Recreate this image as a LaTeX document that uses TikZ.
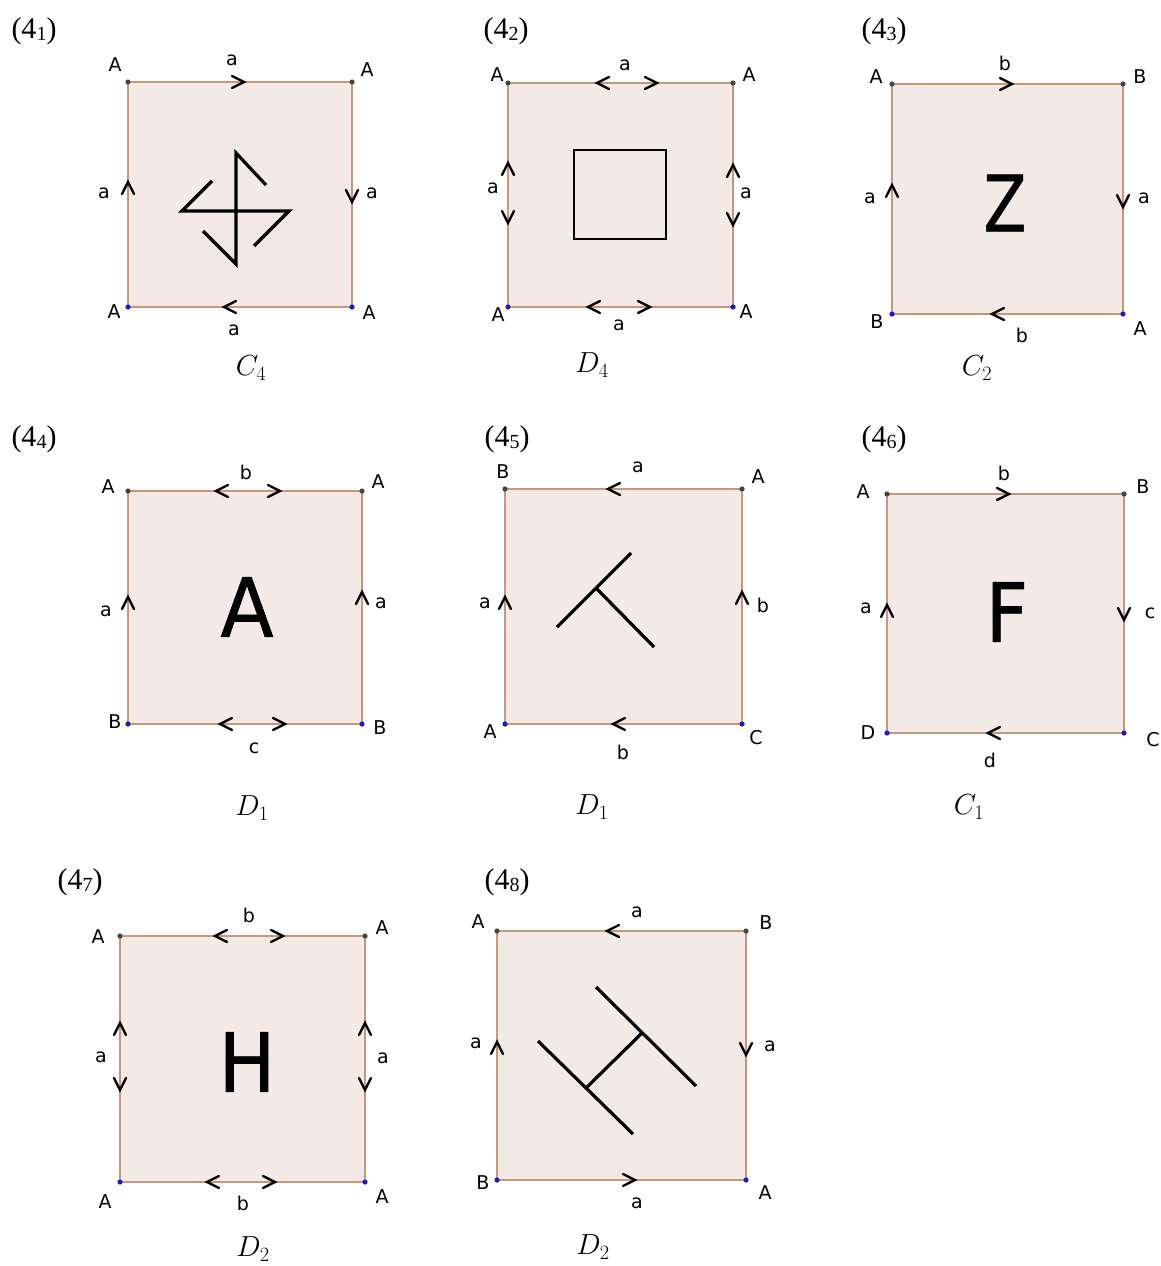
\RequirePackage{fix-cm}
\documentclass[tikz,border=0pt]{standalone}
\usepackage{fontspec}
\setmainfont{Liberation Serif}
\newfontfamily\lblfont{DejaVu Sans}
\newfontfamily\bigfont[FakeBold=0.8]{DejaVu Sans}
\definecolor{edgec}{HTML}{C8967A}
\definecolor{fillc}{HTML}{F3EAE5}
\definecolor{dotblue}{HTML}{1A1AD0}
\definecolor{dotgrey}{HTML}{444444}
\tikzset{
 face/.style={draw=edgec,fill=fillc,line width=2pt},
 chevst/.style={draw=black,line width=2.4pt,line cap=round},
 figline/.style={draw=black,line width=3.2pt},
 lbl/.style={font=\lblfont\fontsize{19}{19}\selectfont,inner sep=0pt},
 bigl/.style={font=\bigfont\fontsize{82}{82}\selectfont,inner sep=0pt},
 capt/.style={font=\fontsize{29}{29}\selectfont,inner sep=0pt},
 plab/.style={font=\fontsize{30}{30}\selectfont,inner sep=0pt},
}
\newcommand\chev[3]{\draw[chevst,shift={(#1,#2)},rotate=#3] (-12,6) -- (0,0) -- (-12,-6);}
\newcommand\sqface[4]{%
 \draw[face] (#1,#2) rectangle (#3,#4);
 \fill[dotgrey] (#1,#2) circle (2.6); \fill[dotgrey] (#3,#2) circle (2.6);
 \fill[dotblue] (#1,#4) circle (2.6); \fill[dotblue] (#3,#4) circle (2.6);}
\newcommand\plabtxt[1]{(4\raisebox{-0.08em}{\fontsize{20}{20}\selectfont #1})}
\begin{document}
\begin{tikzpicture}[x=1pt,y=-1pt]
\fill[white] (0,0) rectangle (1160,1266);
\useasboundingbox (0,0) rectangle (1160,1266);

% ---------- Panel 1 ----------
\sqface{128}{82}{352}{307}
\chev{244}{82}{0} \chev{128}{182}{90} \chev{352}{202}{-90} \chev{224}{307}{180}
\node[plab] (p1l) at (34,31) {\plabtxt{1}};
\node[lbl] (p1t) at (232,60) {a};
\node[lbl] (p1w) at (104,193) {a};
\node[lbl] (p1e) at (372,193) {a};
\node[lbl] (p1b) at (234,330) {a};
\node[lbl] (p1v1) at (115,65) {A};
\node[lbl] (p1v2) at (367,70) {A};
\node[lbl] (p1v3) at (114,312) {A};
\node[lbl] (p1v4) at (369,313) {A};
\draw[figline] (266,185) -- (236,153) -- (236,264) -- (203,231);
\draw[figline] (212,181) -- (182,211) -- (289,211) -- (254,246);
\node[capt] (p1c) at (251,368) {$C_4$};

% ---------- Panel 2 ----------
\sqface{508}{83}{733}{307}
\chev{597}{83}{180} \chev{657}{83}{0}
\chev{508}{163}{90} \chev{508}{223}{-90}
\chev{733}{165}{90} \chev{733}{225}{-90}
\chev{588}{307}{180} \chev{650}{307}{0}
\node[plab] (p2l) at (506,31) {\plabtxt{2}};
\node[lbl] (p2t) at (625,65) {a};
\node[lbl] (p2w) at (493,188) {a};
\node[lbl] (p2e) at (746,193) {a};
\node[lbl] (p2b) at (619,325) {a};
\node[lbl] (p2v1) at (497,75) {A};
\node[lbl] (p2v2) at (749,75) {A};
\node[lbl] (p2v3) at (498,315) {A};
\node[lbl] (p2v4) at (746,312) {A};
\draw[black,line width=2.6pt] (574,150) rectangle (666,239);
\node[capt] (p2c) at (592,365) {$D_4$};

% ---------- Panel 3 ----------
\sqface{892}{84}{1123}{314}
\chev{1012}{84}{0} \chev{892}{185}{90} \chev{1123}{207}{-90} \chev{992}{314}{180}
\node[plab] (p3l) at (884,31) {\plabtxt{3}};
\node[lbl] (p3t) at (1005,63) {b};
\node[lbl] (p3w) at (870,198) {a};
\node[lbl] (p3e) at (1144,198) {a};
\node[lbl] (p3b) at (1022,335) {b};
\node[lbl] (p3v1) at (876,77) {A};
\node[lbl] (p3v2) at (1140,77) {B};
\node[lbl] (p3v3) at (877,322) {B};
\node[lbl] (p3v4) at (1140,329) {A};
\node[bigl,font=\bigfont\fontsize{78}{78}\selectfont] (p3z) at (1005,203) {\scalebox{0.8}[1]{Z}};
\node[capt] (p3c) at (977,368) {$C_2$};

% ---------- Panel 4 ----------
\sqface{128}{491}{362}{724}
\chev{216}{491}{180} \chev{280}{491}{0}
\chev{128}{597}{90} \chev{362}{592}{90}
\chev{220}{724}{180} \chev{285}{724}{0}
\node[plab] (p4l) at (34,439) {\plabtxt{4}};
\node[lbl] (p4t) at (246,472) {b};
\node[lbl] (p4w) at (106,611) {a};
\node[lbl] (p4e) at (381,603) {a};
\node[lbl] (p4b) at (254,748) {c};
\node[lbl] (p4v1) at (108,487) {A};
\node[lbl] (p4v2) at (378,482) {A};
\node[lbl] (p4v3) at (115,722) {B};
\node[lbl] (p4v4) at (380,728) {B};
\node[bigl] (p4a) at (247,607) {\scalebox{0.95}[1]{A}};
\node[capt] (p4c) at (252,808) {$D_1$};

% ---------- Panel 5 ----------
\sqface{505}{489}{742}{724}
\chev{608}{489}{180} \chev{505}{597}{90} \chev{742}{592}{90} \chev{613}{724}{180}
\node[plab] (p5l) at (507,439) {\plabtxt{5}};
\node[lbl] (p5t) at (638,467) {a};
\node[lbl] (p5w) at (485,603) {a};
\node[lbl] (p5e) at (763,605) {b};
\node[lbl] (p5b) at (623,752) {b};
\node[lbl] (p5v1) at (503,472) {B};
\node[lbl] (p5v2) at (758,477) {A};
\node[lbl] (p5v3) at (490,732) {A};
\node[lbl] (p5v4) at (756,738) {C};
\draw[figline] (557,627) -- (631,553);
\draw[figline] (596,588) -- (654,647);
\node[capt] (p5c) at (592,807) {$D_1$};

% ---------- Panel 6 ----------
\sqface{887}{494}{1124}{733}
\chev{1009}{494}{0} \chev{887}{605}{90} \chev{1124}{620}{-90} \chev{988}{733}{180}
\node[plab] (p6l) at (884,439) {\plabtxt{6}};
\node[lbl] (p6t) at (1004,473) {b};
\node[lbl] (p6w) at (866,608) {a};
\node[lbl] (p6e) at (1150,613) {c};
\node[lbl] (p6b) at (990,760) {d};
\node[lbl] (p6v1) at (863,492) {A};
\node[lbl] (p6v2) at (1143,487) {B};
\node[lbl] (p6v3) at (868,733) {D};
\node[lbl] (p6v4) at (1153,740) {C};
\node[bigl] (p6f) at (1007,612) {\scalebox{0.9}[1]{F}};
\node[capt] (p6c) at (969,807) {$C_1$};

% ---------- Panel 7 ----------
\sqface{120}{936}{365}{1182}
\chev{215}{936}{180} \chev{283}{936}{0}
\chev{120}{1023}{90} \chev{120}{1090}{-90}
\chev{365}{1023}{90} \chev{365}{1090}{-90}
\chev{207}{1182}{180} \chev{275}{1182}{0}
\node[plab] (p7l) at (80,882) {\plabtxt{7}};
\node[lbl] (p7t) at (249,915) {b};
\node[lbl] (p7w) at (101,1057) {a};
\node[lbl] (p7e) at (383,1058) {a};
\node[lbl] (p7b) at (243,1203) {b};
\node[lbl] (p7v1) at (98,937) {A};
\node[lbl] (p7v2) at (382,928) {A};
\node[lbl] (p7v3) at (105,1202) {A};
\node[lbl] (p7v4) at (382,1197) {A};
\node[bigl] (p7h) at (247,1062) {\scalebox{0.92}[1]{H}};
\node[capt] (p7c) at (253,1249) {$D_2$};

% ---------- Panel 8 ----------
\sqface{497}{931}{746}{1180}
\chev{607}{931}{180} \chev{497}{1042}{90} \chev{746}{1055}{-90} \chev{635}{1180}{0}
\node[plab] (p8l) at (507,882) {\plabtxt{8}};
\node[lbl] (p8t) at (637,912) {a};
\node[lbl] (p8w) at (476,1043) {a};
\node[lbl] (p8e) at (770,1046) {a};
\node[lbl] (p8b) at (637,1203) {a};
\node[lbl] (p8v1) at (478,922) {A};
\node[lbl] (p8v2) at (766,923) {B};
\node[lbl] (p8v3) at (483,1183) {B};
\node[lbl] (p8v4) at (765,1193) {A};
\draw[figline] (596,987) -- (696,1086);
\draw[figline] (538,1041) -- (633,1134);
\draw[figline] (642,1033) -- (587,1087);
\node[capt] (p8c) at (593,1247) {$D_2$};
\end{tikzpicture}
\end{document}
